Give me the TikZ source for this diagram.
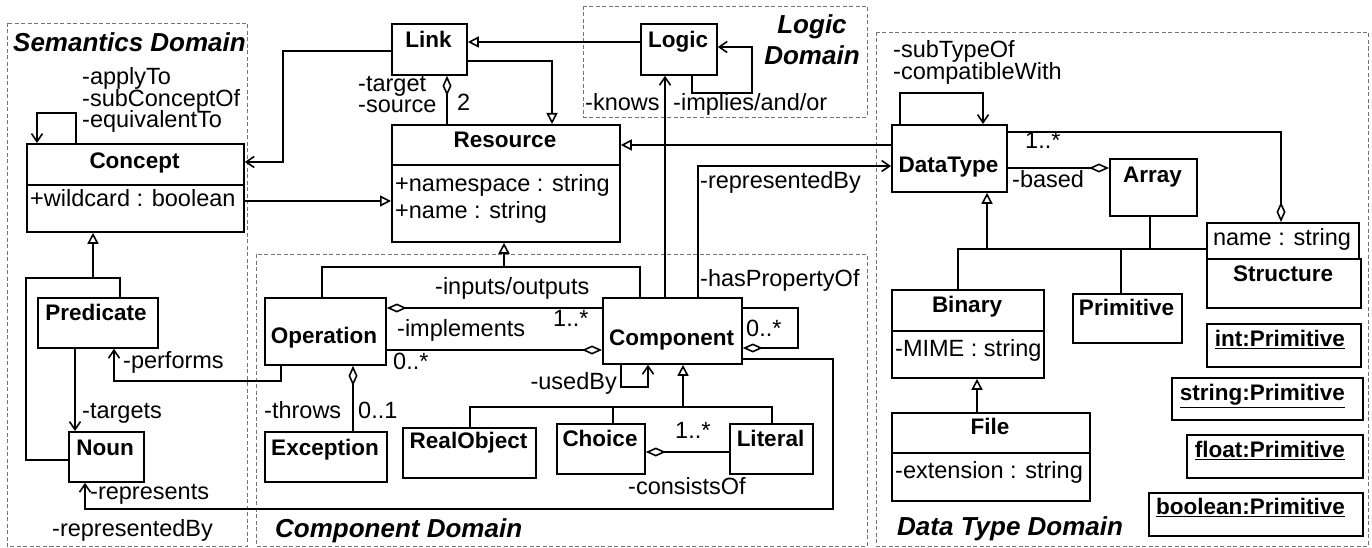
\documentclass[tikz,border=0pt]{standalone}
\usepackage{fontspec}
\setmainfont{Liberation Sans}
\usetikzlibrary{arrows.meta}

\begin{document}
\begin{tikzpicture}[x=1pt,y=-1pt,
  cls/.style={draw, line width=1.8pt, inner sep=0, anchor=north west},
  wire/.style={draw, line width=1.6pt},
  nav/.style={wire, -{Straight Barb[length=8pt,width=11pt]}},
  gen/.style={wire, -{Triangle[open,length=11pt,width=11pt,fill=white]}},
  agg/.style={wire, -{Diamond[open,length=20pt,width=9pt,fill=white]}},
  dframe/.style={draw=black!55, line width=0.9pt, dash pattern=on 4pt off 2.5pt},
  lbl/.style={font=\fontsize{23.5}{26}\selectfont, inner sep=0, text height=16pt, text depth=4pt},
  cname/.style={font=\bfseries\fontsize{22.5}{26}\selectfont, inner sep=0, text height=16pt, text depth=4.5pt},
  dname/.style={font=\bfseries\itshape\fontsize{26}{30}\selectfont, inner sep=0, text height=19pt, text depth=5pt},
]
\useasboundingbox (0,0) rectangle (1372,548);

% ---- domain frames ----
\draw[dframe] (7,23) rectangle (247,546);
\draw[dframe] (583,6) rectangle (867,117);
\draw[dframe] (256,254) rectangle (867,546);
\draw[dframe] (876,32) rectangle (1368,546);

\node[dname, anchor=west] (tsem) at (13,45) {Semantics Domain};
\node[dname] (tlog1) at (812,27) {Logic};
\node[dname] (tlog2) at (812,58) {Domain};
\node[dname, anchor=west] (tcomp) at (275,530) {Component Domain};
\node[dname, anchor=west] (tdata) at (897,528) {Data Type Domain};

% ---- classes ----
\node[cls, minimum width=217pt, minimum height=88pt] (concept) at (26,143) {};
\draw[line width=1.8pt] (concept.west |- 0,185) -- (concept.east |- 0,185);
\node[cname] (nconcept) at (134.5,163) {Concept};
\node[lbl, anchor=west] (aconcept) at (30,201) {+wildcard : boolean};

\node[cls, minimum width=228pt, minimum height=117pt] (resource) at (391,124) {};
\draw[line width=1.8pt] (resource.west |- 0,165) -- (resource.east |- 0,165);
\node[cname] (nresource) at (505,142) {Resource};
\node[lbl, anchor=west] (ares1) at (395,185) {+namespace : string};
\node[lbl, anchor=west] (ares2) at (395,212) {+name : string};

\node[cls, minimum width=75pt, minimum height=51pt] (link) at (391,23) {};
\node[cname] (nlink) at (428.5,42) {Link};
\node[cls, minimum width=76pt, minimum height=51pt] (logic) at (640,23) {};
\node[cname] (nlogic) at (678,42) {Logic};

\node[cls, minimum width=120pt, minimum height=50pt] (predicate) at (37,297) {};
\node[cname] (npredicate) at (96,315) {Predicate};
\node[cls, minimum width=75pt, minimum height=50pt] (noun) at (68,431) {};
\node[cname] (nnoun) at (105,450) {Noun};

\node[cls, minimum width=121pt, minimum height=67pt] (operation) at (264,297) {};
\node[cname] (noperation) at (324,338) {Operation};
\node[cls, minimum width=139pt, minimum height=66pt] (component) at (602,297) {};
\node[cname] (ncomponent) at (671.5,340) {Component};
\node[cls, minimum width=122pt, minimum height=50pt] (exception) at (264,431) {};
\node[cname] (nexception) at (325,450) {Exception};
\node[cls, minimum width=133pt, minimum height=50pt] (realobject) at (402,427) {};
\node[cname] (nrealobject) at (468.5,443) {RealObject};
\node[cls, minimum width=88pt, minimum height=50pt] (choice) at (556,423) {};
\node[cname] (nchoice) at (600,441) {Choice};
\node[cls, minimum width=83pt, minimum height=50pt] (literal) at (729,423) {};
\node[cname] (nliteral) at (770.5,441) {Literal};

\node[cls, minimum width=115pt, minimum height=67pt] (datatype) at (891,124) {};
\node[cname] (ndatatype) at (948.5,167) {DataType};
\node[cls, minimum width=87pt, minimum height=57pt] (array) at (1109,158) {};
\node[cname] (narray) at (1152.5,177) {Array};
\node[cls, minimum width=152pt, minimum height=36pt] (structname) at (1206,222) {};
\node[lbl] (astruct) at (1282,239) {name : string};
\node[cls, minimum width=154pt, minimum height=49pt] (structure) at (1206,258) {};
\node[cname] (nstructure) at (1283,276) {Structure};
\node[cls, minimum width=109pt, minimum height=49pt] (primitive) at (1072,293) {};
\node[cname] (nprimitive) at (1126.5,310) {Primitive};
\node[cls, minimum width=152pt, minimum height=88pt] (binary) at (891,289) {};
\draw[line width=1.8pt] (binary.west |- 0,331) -- (binary.east |- 0,331);
\node[cname] (nbinary) at (967,307) {Binary};
\node[lbl, anchor=west] (abinary) at (895,350) {-MIME : string};
\node[cls, minimum width=198pt, minimum height=88pt] (file) at (891,412) {};
\draw[line width=1.8pt] (file.west |- 0,453) -- (file.east |- 0,453);
\node[cname] (nfile) at (990,429) {File};
\node[lbl, anchor=west] (afile) at (895,472) {-extension : string};

% ---- instances ----
\node[cls, minimum width=154pt, minimum height=43pt] (iint) at (1206,323) {};
\node[cname, anchor=east] (niint) at (1345,341) {\underline{int:Primitive}};
\node[cls, minimum width=191pt, minimum height=42pt] (istring) at (1171,377) {};
\node[cname, anchor=east] (nistring) at (1345,395) {\underline{string:Primitive}};
\node[cls, minimum width=176pt, minimum height=43pt] (ifloat) at (1186,434) {};
\node[cname, anchor=east] (nifloat) at (1345,452) {\underline{float:Primitive}};
\node[cls, minimum width=214pt, minimum height=43pt] (iboolean) at (1148,492) {};
\node[cname, anchor=east] (niboolean) at (1345,509) {\underline{boolean:Primitive}};

% ---- semantics domain connectors ----
\draw[nav] (76,0 |- concept.north) -- (76,113) -- (37,113) -- (37,0 |- concept.north);
\node[lbl, anchor=west] (lapply) at (82,79) {-applyTo};
\node[lbl, anchor=west] (lsubc) at (82,101) {-subConceptOf};
\node[lbl, anchor=west] (lequiv) at (82,122) {-equivalentTo};

\draw[nav] (link.west |- 0,51) -- (283,51) -- (283,162) -- (concept.east |- 0,162);
\draw[gen] (concept.east |- 0,201) -- (resource.west |- 0,201);

\draw[wire] (120,0 |- predicate.north) -- (120,278) -- (26,278) -- (26,460) -- (noun.west |- 0,460);
\draw[gen] (93,278) -- (93,0 |- concept.south);

\draw[nav] (75,0 |- predicate.south) -- (75,0 |- noun.north);
\node[lbl, anchor=west] (ltargets) at (82,412) {-targets};

\draw[nav] (281,0 |- operation.south) -- (281,381) -- (114,381) -- (114,0 |- predicate.south);
\node[lbl, anchor=west] (lperforms) at (123,362) {-performs};

\draw[nav] (component.east |- 0,359) -- (833,359) -- (833,509) -- (85,509) -- (85,0 |- noun.south);
\node[lbl, anchor=west] (lrepresents) at (90,493) {-represents};
\node[lbl, anchor=west] (lrepby) at (52,530) {-representedBy};

% ---- link / logic ----
\draw[gen] (logic.west |- 0,42) -- (link.east |- 0,42);
\draw[nav] (692,0 |- logic.south) -- (692,93) -- (752,93) -- (752,47) -- (logic.east |- 0,47);
\node[lbl, anchor=west] (limplies) at (673,105) {-implies/and/or};
\draw[nav] (665,0 |- component.north) -- (665,0 |- logic.south);
\node[lbl, anchor=west] (lknows) at (585,105) {-knows};

\draw[gen] (link.east |- 0,61) -- (552,61) -- (552,0 |- resource.north);
\draw[agg] (447,0 |- resource.north) -- (447,0 |- link.south);
\node[lbl, anchor=west] (ltarget) at (358,86) {-target};
\node[lbl, anchor=west] (lsource) at (358,107) {-source};
\node[lbl, anchor=west] (ltwo) at (457,105) {2};

\draw[gen] (datatype.west |- 0,145) -- (resource.east |- 0,145);
\draw[nav] (698,0 |- component.north) -- (698,166) -- (datatype.west |- 0,166);
\node[lbl, anchor=west] (lrepby2) at (700,183) {-representedBy};
\node[lbl, anchor=west] (lhasprop) at (700,280) {-hasPropertyOf};

% ---- component domain ----
\draw[wire] (322,0 |- operation.north) -- (322,267) -- (640,267) -- (640,0 |- component.north);
\draw[gen] (504,267) -- (504,0 |- resource.south);

\draw[agg] (component.west |- 0,308) -- (operation.east |- 0,308);
\node[lbl, anchor=west] (lio) at (435,288) {-inputs/outputs};
\node[lbl, anchor=west] (lio1) at (553,320) {1..*};
\draw[agg] (operation.east |- 0,350) -- (component.west |- 0,350);
\node[lbl, anchor=west] (limpl) at (397,330) {-implements};
\node[lbl, anchor=west] (limpl0) at (393,363) {0..*};

\draw[agg] (353,0 |- exception.north) -- (353,0 |- operation.south);
\node[lbl, anchor=west] (lthrows) at (264,412) {-throws};
\node[lbl, anchor=west] (lthrows01) at (358,412) {0..1};

\draw[nav] (621,0 |- component.south) -- (621,387) -- (648,387) -- (648,0 |- component.south);
\node[lbl, anchor=east] (lusedby) at (617,383) {-usedBy};

\draw[agg] (component.east |- 0,308) -- (798,308) -- (798,348) -- (component.east |- 0,348);
\node[lbl, anchor=west] (lprop0) at (746,330) {0..*};

\draw[gen] (683,407) -- (683,0 |- component.south);
\draw[wire] (470,0 |- realobject.north) -- (470,407) -- (772,407) -- (772,0 |- literal.north);
\draw[wire] (613,407) -- (613,0 |- choice.north);

\draw[agg] (literal.west |- 0,452) -- (choice.east |- 0,452);
\node[lbl, anchor=west] (lcons1) at (675,432) {1..*};
\node[lbl, anchor=west] (lconsists) at (628,488) {-consistsOf};

% ---- data type domain ----
\draw[nav] (900,0 |- datatype.north) -- (900,93) -- (983,93) -- (983,0 |- datatype.north);
\node[lbl, anchor=west] (lsubtype) at (893,52) {-subTypeOf};
\node[lbl, anchor=west] (lcompat) at (893,74) {-compatibleWith};

\draw[agg] (datatype.east |- 0,132) -- (1281,132) -- (1281,0 |- structname.north);
\node[lbl, anchor=west] (lstruct1) at (1025,143) {1..*};
\draw[agg] (datatype.east |- 0,168) -- (array.west |- 0,168);
\node[lbl, anchor=west] (lbased) at (1012,182) {-based};

\draw[gen] (987,249) -- (987,0 |- datatype.south);
\draw[wire] (958,0 |- binary.north) -- (958,249) -- (structname.west |- 0,249);
\draw[wire] (1150,0 |- array.south) -- (1150,249);
\draw[wire] (1121,249) -- (1121,0 |- primitive.north);

\draw[gen] (977,0 |- file.north) -- (977,0 |- binary.south);

\end{tikzpicture}
\end{document}
